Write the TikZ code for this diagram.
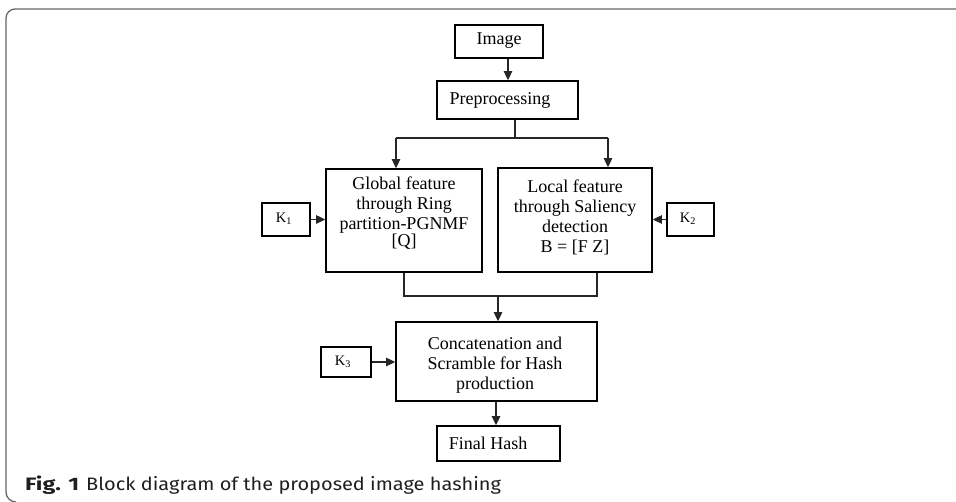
\documentclass[tikz,border=0pt]{standalone}
\usepackage{fontspec}
\setmainfont{Liberation Serif}
\newfontfamily\capfont{Fira Sans}
\usetikzlibrary{arrows.meta}
\tikzset{
  box/.style={draw=black, line width=1.7pt, inner sep=0pt, fill=white},
  txt/.style={inner sep=0pt, align=center, font=\fontsize{18}{20}\selectfont},
  ktxt/.style={inner sep=0pt, font=\fontsize{14.5}{16}\selectfont},
  conn/.style={draw=black!85, line width=1.1pt},
  arr/.style={conn, -{Triangle[length=9pt,width=8.5pt]}},
  frame/.style={draw=black!60, line width=1.3pt},
  captxt/.style={anchor=base west, inner sep=0pt, font=\capfont\fontsize{18}{20}\selectfont, text=black!88}
}
\begin{document}
\begin{tikzpicture}[x=1pt,y=-1pt]
\useasboundingbox (0,0) rectangle (956,502);
% frame
\draw[frame] (956,9) -- (15,9) arc[start angle=90,end angle=180,radius=9pt] -- (6,492) arc[start angle=180,end angle=270,radius=10pt];
% boxes
\node[box, minimum width=88, minimum height=33] (img) at (499,41.5) {};
\node[txt] (imgT) at (499,41) {Image};
\node[box, minimum width=141, minimum height=38] (pre) at (507.5,100) {};
\node[txt] (preT) at (500,100) {Preprocessing};
\node[box, minimum width=156, minimum height=103] (gl) at (404,220.5) {};
\node[txt] (glT) at (404,213) {Global feature\\through Ring\\partition-PGNMF\\[-3pt][Q]};
\node[box, minimum width=154, minimum height=104] (lo) at (575,220) {};
\node[txt] (loT) at (575,217) {Local feature\\through Saliency\\detection\\B = [F Z]};
\node[box, minimum width=48, minimum height=33] (k1) at (286,219.5) {};
\node[ktxt] (k1T) at (284,219) {K\textsubscript{1}};
\node[box, minimum width=47, minimum height=33] (k2) at (690.5,219.5) {};
\node[ktxt] (k2T) at (688,219) {K\textsubscript{2}};
\node[box, minimum width=201, minimum height=79] (cat) at (496.5,361.5) {};
\node[txt] (catT) at (495,365) {Concatenation and\\Scramble for Hash\\production};
\node[box, minimum width=50, minimum height=30] (k3) at (346,362) {};
\node[ktxt] (k3T) at (343,362) {K\textsubscript{3}};
\node[box, minimum width=123, minimum height=35] (fin) at (498.5,443.5) {};
\node[txt] (finT) at (488,443) {Final Hash};
% connectors
\draw[arr] (img.south -| 508,0) -- (pre.north -| 508,0);
\coordinate (sp) at (515,138);
\coordinate (spL) at (396,138);
\coordinate (spR) at (608,138);
\draw[conn] (pre.south -| sp) -- (sp);
\draw[conn] (spL) -- (spR);
\draw[arr] (spL) -- (gl.north -| spL);
\draw[arr] (spR) -- (lo.north -| spR);
\draw[arr] (k1.east) -- (gl.west |- k1.east);
\draw[arr] (k2.west) -- (lo.east |- k2.west);
\coordinate (mL) at (404,296);
\coordinate (mR) at (597,296);
\coordinate (mC) at (498,296);
\draw[conn] (gl.south -| mL) -- (mL) -- (mR) -- (lo.south -| mR);
\draw[arr] (mC) -- (cat.north -| mC);
\draw[arr] (k3.east) -- (cat.west |- k3.east);
\draw[arr] (cat.south -| 496,0) -- (fin.north -| 496,0);
% caption
\node[captxt] (capF) at (25,490) {\scalebox{1.3}[1]{\textbf{Fig. 1}}};
\node[captxt] (capT) at (86,490) {\scalebox{1.11}[1]{Block diagram of the proposed image hashing}};
\end{tikzpicture}
\end{document}
